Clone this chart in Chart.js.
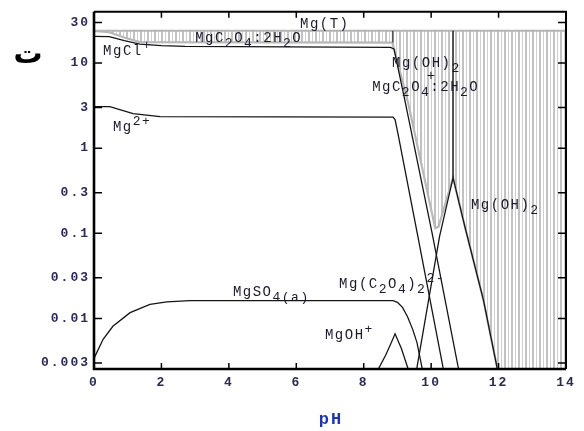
<!DOCTYPE html>
<html>
<head>
<meta charset="utf-8">
<script src="https://cdn.jsdelivr.net/npm/chart.js@4.4.0/dist/chart.umd.min.js"></script>
<style>
  html, body { margin: 0; padding: 0; background: #fff; }
  canvas { display: block; }
</style>
</head>
<body>
<canvas id="chart" width="584" height="431"></canvas>
<script>
// axis ticks
const X_TICKS = [0, 2, 4, 6, 8, 10, 12, 14];
const Y_TICKS = [0.003, 0.01, 0.03, 0.1, 0.3, 1, 3, 10, 30];
const Y_TICK_LABELS = ["0.003", "0.01", "0.03", "0.1", "0.3", "1", "3", "10", "30"];

// total Mg
const MG_T = 23.9;
const mgTPh = [0, 14];
const mgT = [MG_T, MG_T];

// sum of dissolved species (lower edge of the solid hatching)
const dissolvedPh = [0, 0.45, 0.92, 1.36, 8.85, 9.31, 10.12, 10.22, 10.65, 11.0, 11.55, 11.96, 12.05, 14];
const dissolved = [23.9, 23.0, 19.8, 17.6, 17.4, 3.5, 0.115, 0.12, 0.45, 0.12, 0.0165, 0.0026, 0.0015, 0.0015];

// species
const mgClPh = [0, 0.45, 0.9, 1.36, 2.0, 2.7, 8.8, 8.9, 9.23, 10.03, 10.8, 10.86];
const mgCl = [20.6, 20.4, 18.3, 16.7, 16.0, 15.7, 15.3, 14.6, 3.5, 0.1, 0.0027, 0.0023];

const mg2Ph = [0, 0.47, 1.16, 1.96, 8.87, 8.93, 9.02, 9.61, 10.35, 10.39];
const mg2 = [3.08, 3.08, 2.55, 2.35, 2.32, 2.17, 1.45, 0.09, 0.0027, 0.0023];

const mgSO4Ph = [0, 0.27, 0.56, 1.07, 1.66, 2.16, 2.85, 8.87, 9.0, 9.15, 9.3, 9.45, 9.58, 9.68, 9.75];
const mgSO4 = [0.0034, 0.0057, 0.0081, 0.0117, 0.0146, 0.0157, 0.0162, 0.0162, 0.0155, 0.0135, 0.0105, 0.0075, 0.0052, 0.0033, 0.0024];

const mgOHPh = [8.4, 8.65, 8.8, 8.93, 9.12, 9.34];
const mgOH = [0.0024, 0.0037, 0.005, 0.0066, 0.0044, 0.0024];

const mgOxPh = [9.56, 10.25, 10.65, 11.0, 11.55, 11.96, 12.0];
const mgOx = [0.0024, 0.092, 0.45, 0.12, 0.0165, 0.0026, 0.0023];

// phase boundaries
const boundary1Ph = [8.86, 8.86];
const boundary1 = [MG_T, 17.4];
const boundary2Ph = [10.65, 10.65];
const boundary2 = [MG_T, 0.45];

// text labels: [pH, value, pieces] ; piece = [text, 0 normal | 1 sub | -1 sup]
const LABELS = [
  [6.11, 25.5, [["Mg(T)", 0]]],
  [3.0, 17.5, [["MgC", 0], ["2", 1], ["O", 0], ["4", 1], [":2H", 0], ["2", 1], ["O", 0]]],
  [0.27, 12.4, [["MgCl", 0], ["+", -1]]],
  [8.84, 9.0, [["Mg(OH)", 0], ["2", 1]]],
  [9.87, 6.3, [["+", 0]]],
  [8.25, 4.72, [["MgC", 0], ["2", 1], ["O", 0], ["4", 1], [":2H", 0], ["2", 1], ["O", 0]]],
  [0.56, 1.58, [["Mg", 0], ["2+", -1]]],
  [11.18, 0.195, [["Mg(OH)", 0], ["2", 1]]],
  [7.27, 0.0229, [["Mg(C", 0], ["2", 1], ["O", 0], ["4", 1], [")", 0], ["2", 1], ["2-", -1]]],
  [4.12, 0.0184, [["MgSO", 0], ["4(a)", 1]]],
  [6.85, 0.00567, [["MgOH", 0], ["+", -1]]],
];

const pts = (xs, ys) => xs.map((x, i) => ({ x, y: ys[i] }));

function hatch() {
  const c = document.createElement("canvas");
  c.width = 7;
  c.height = 4;
  const g = c.getContext("2d");
  g.fillStyle = "#ffffff";
  g.fillRect(0, 0, 7, 4);
  g.fillStyle = "#c2c2c2";
  g.fillRect(0, 0, 2, 4);
  g.fillStyle = "#cfcfcf";
  g.fillRect(4, 0, 1, 4);
  return g.createPattern(c, "repeat");
}

const INK = "#151515";
const TEXT = "#1a1a2c";

function lineSet(data, color, width, order) {
  return {
    data,
    borderColor: color,
    borderWidth: width,
    pointRadius: 0,
    fill: false,
    tension: 0,
    order,
  };
}

function drawRich(ctx, x, y, pieces) {
  let cx = x;
  for (const [txt, mode] of pieces) {
    ctx.font = mode === 0 ? "14px 'Liberation Mono'" : "13px 'Liberation Mono'";
    const dy = mode === 1 ? 5 : mode === -1 ? -6 : 0;
    ctx.fillText(txt, cx, y + dy);
    cx += ctx.measureText(txt).width;
  }
}

const decor = {
  id: "decor",
  beforeDraw(chart) {
    chart.ctx.letterSpacing = "2px";
  },
  afterDraw(chart) {
    const { ctx, chartArea: a, scales } = chart;
    const xs = scales.x, ys = scales.y;
    ctx.save();

    // labels
    ctx.letterSpacing = "1.5px";
    ctx.fillStyle = TEXT;
    ctx.textAlign = "left";
    ctx.textBaseline = "alphabetic";
    for (const [ph, v, pieces] of LABELS) {
      drawRich(ctx, xs.getPixelForValue(ph), ys.getPixelForValue(v), pieces);
    }

    // frame
    ctx.strokeStyle = "#000";
    ctx.lineWidth = 2;
    ctx.beginPath();
    ctx.moveTo(a.left, a.top);
    ctx.lineTo(a.right, a.top);
    ctx.lineTo(a.right, a.bottom);
    ctx.stroke();
    ctx.lineWidth = 2.6;
    ctx.beginPath();
    ctx.moveTo(a.left, a.top);
    ctx.lineTo(a.left, a.bottom);
    ctx.lineTo(a.right, a.bottom);
    ctx.stroke();

    // inward ticks
    ctx.lineWidth = 1.5;
    ctx.beginPath();
    for (const v of X_TICKS) {
      const px = xs.getPixelForValue(v);
      ctx.moveTo(px, a.bottom);
      ctx.lineTo(px, a.bottom - 6);
      ctx.moveTo(px, a.top);
      ctx.lineTo(px, a.top + 6);
    }
    for (const v of Y_TICKS) {
      const py = ys.getPixelForValue(v);
      ctx.moveTo(a.left, py);
      ctx.lineTo(a.left + 8, py);
      ctx.moveTo(a.right, py);
      ctx.lineTo(a.right - 8, py);
    }
    ctx.stroke();

    // axis titles
    ctx.letterSpacing = "2px";
    ctx.fillStyle = "#1f35a8";
    ctx.textAlign = "center";
    ctx.font = "bold 17px 'Liberation Mono'";
    ctx.fillText("pH", 331, 424);
    ctx.letterSpacing = "0px";
    ctx.fillStyle = "#000";
    ctx.font = "bold 29px 'DejaVu Sans'";
    ctx.fillText("ت", 28, 63);
    ctx.restore();
  },
};

const tickFont = { family: "'Liberation Mono'", size: 13, weight: "bold" };

new Chart(document.getElementById("chart"), {
  type: "line",
  data: {
    datasets: [
      lineSet(pts(mgClPh, mgCl), INK, 1.3, 0),
      lineSet(pts(mg2Ph, mg2), INK, 1.3, 0),
      lineSet(pts(mgSO4Ph, mgSO4), INK, 1.3, 0),
      lineSet(pts(mgOHPh, mgOH), INK, 1.3, 0),
      lineSet(pts(mgOxPh, mgOx), INK, 1.3, 0),
      lineSet(pts(boundary2Ph, boundary2), INK, 1.4, 0),
      lineSet(pts(boundary1Ph, boundary1), "#555", 1.6, 1),
      lineSet(pts(mgTPh, mgT), "#b4b4b4", 2, 2),
      Object.assign(lineSet(pts(dissolvedPh, dissolved), "#b8b8b8", 2.2, 3), {
        fill: { value: MG_T },
        backgroundColor: hatch(),
      }),
    ],
  },
  options: {
    responsive: false,
    animation: false,
    devicePixelRatio: 1,
    layout: { padding: { top: 9, right: 18, left: 0, bottom: 0 } },
    plugins: { legend: { display: false }, tooltip: { enabled: false } },
    scales: {
      x: {
        type: "linear",
        min: 0,
        max: 14,
        afterBuildTicks: (s) => { s.ticks = X_TICKS.map((v) => ({ value: v })); },
        afterFit: (s) => { s.height = 62; },
        ticks: { font: tickFont, color: "#2a2a55", padding: 6, maxRotation: 0 },
        grid: { display: false, drawTicks: false },
        border: { display: false },
      },
      y: {
        type: "logarithmic",
        min: 0.00255,
        max: 40,
        afterBuildTicks: (s) => { s.ticks = Y_TICKS.map((v) => ({ value: v })); },
        afterFit: (s) => { s.width = 94; },
        ticks: {
          font: tickFont,
          color: "#2a2a55",
          padding: 4,
          autoSkip: false,
          callback: (v) => Y_TICK_LABELS[Y_TICKS.indexOf(v)] ?? "",
        },
        grid: { display: false, drawTicks: false },
        border: { display: false },
      },
    },
  },
  plugins: [decor],
});
</script>
</body>
</html>
